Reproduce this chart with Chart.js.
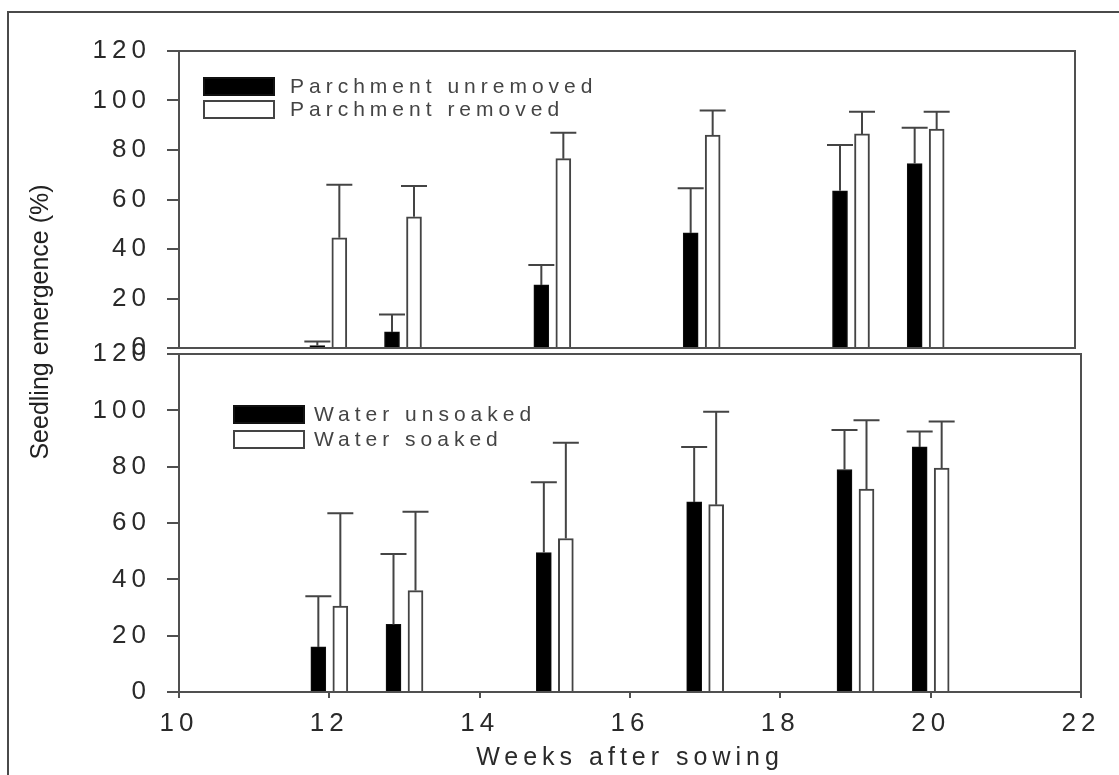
<!DOCTYPE html>
<html>
<head>
<meta charset="utf-8">
<title>Seedling emergence</title>
<script src="https://cdn.jsdelivr.net/npm/chart.js@4.4.1/dist/chart.umd.min.js"></script>
<style>
    html, body { margin: 0; padding: 0; background: #fff; }
    #wrap { position: relative; width: 1119px; height: 775px; overflow: hidden; background: #fff; }
    #wrap canvas { position: absolute; left: 0; top: 0; }
    #frame { position: absolute; left: 7px; top: 11px; width: 1130px; height: 800px;
             border-left: 2px solid #4a4a4a; border-top: 2px solid #4a4a4a; }
</style>
</head>
<body>
<div id="wrap">
    <div id="frame"></div>
    <canvas id="parchmentChart" width="1119" height="362"></canvas>
    <canvas id="soakingChart" width="1119" height="775"></canvas>
</div>
<script>
// weeks after sowing where emergence was counted
const weeks = [12, 13, 15, 17, 19, 20];
const xTicks = [10, 12, 14, 16, 18, 20, 22];
const yTicks = [0, 20, 40, 60, 80, 100, 120];

// top panel: parchment treatment (mean % and SD)
const parchmentUnremoved = [1, 6.5, 25.5, 46.5, 63.5, 74.5];
const parchmentUnremovedSd = [1.6, 7, 8, 18, 18.5, 14.5];
const parchmentRemoved = [44.5, 53, 76.5, 86, 86.5, 88.5];
const parchmentRemovedSd = [21.5, 12.5, 10.5, 10, 9, 7];

// bottom panel: water soaking treatment (mean % and SD)
const waterUnsoaked = [16, 24, 49.5, 67.5, 79, 87];
const waterUnsoakedSd = [18, 25, 25, 19.5, 14, 5.5];
const waterSoaked = [30.5, 36, 54.5, 66.5, 72, 79.5];
const waterSoakedSd = [33, 28, 34, 33, 24.5, 16.5];

const FONT = '"Liberation Sans", Arial, sans-serif';
const AXIS = '#505050';
Chart.defaults.font.family = FONT;
Chart.defaults.font.size = 26;
Chart.defaults.color = '#2a2a2a';

const toPoints = values => weeks.map((w, i) => ({ x: w, y: values[i] }));

// the scanned figure has very wide lettering
const wideText = {
    id: 'wideText',
    beforeDraw(chart) {
        chart.ctx.letterSpacing = '5px';
    }
};

const frame = {
    id: 'frame',
    beforeDatasetsDraw(chart) {
        const a = chart.chartArea;
        const ctx = chart.ctx;
        ctx.save();
        ctx.strokeStyle = AXIS;
        ctx.lineWidth = 2;
        ctx.strokeRect(a.left, a.top, a.right - a.left, a.bottom - a.top);
        ctx.restore();
    }
};

// upward SD whiskers on each bar
const errorBars = {
    id: 'errorBars',
    afterDatasetsDraw(chart) {
        const ctx = chart.ctx;
        const y = chart.scales.y;
        ctx.save();
        ctx.strokeStyle = '#444';
        ctx.lineWidth = 2;
        chart.data.datasets.forEach((ds, di) => {
            chart.getDatasetMeta(di).data.forEach((bar, i) => {
                const top = y.getPixelForValue(ds.data[i].y + ds.errors[i]);
                ctx.beginPath();
                ctx.moveTo(bar.x, bar.y);
                ctx.lineTo(bar.x, top);
                ctx.moveTo(bar.x - 13, top);
                ctx.lineTo(bar.x + 13, top);
                ctx.stroke();
            });
        });
        ctx.restore();
    }
};

// stacked legend inside the plot, like the original
const boxLegend = {
    id: 'boxLegend',
    afterDraw(chart, args, opts) {
        const ctx = chart.ctx;
        ctx.save();
        ctx.font = '21px ' + FONT;
        ctx.letterSpacing = opts.spacing;
        ctx.textBaseline = 'middle';
        chart.data.datasets.forEach((ds, i) => {
            const top = opts.y + i * opts.rowGap;
            ctx.fillStyle = ds.backgroundColor;
            ctx.fillRect(opts.x, top, 70, 17);
            ctx.strokeStyle = ds.borderColor;
            ctx.lineWidth = 2;
            ctx.strokeRect(opts.x, top, 70, 17);
            ctx.fillStyle = '#444';
            ctx.fillText(ds.label, opts.x + opts.textGap, top + 9);
        });
        ctx.restore();
    }
};

const yTitle = {
    id: 'yTitle',
    afterDraw(chart) {
        const ctx = chart.ctx;
        ctx.save();
        ctx.translate(41, 322);
        ctx.rotate(-Math.PI / 2);
        ctx.font = '25px ' + FONT;
        ctx.letterSpacing = '0px';
        ctx.fillStyle = '#222';
        ctx.textAlign = 'center';
        ctx.textBaseline = 'middle';
        ctx.fillText('Seedling emergence (%)', 0, 0);
        ctx.restore();
    }
};

function panel(canvasId, labels, series, errors, legendPos, opts) {
    return new Chart(document.getElementById(canvasId), {
        type: 'bar',
        data: {
            datasets: [{
                label: labels[0],
                data: toPoints(series[0]),
                errors: errors[0],
                backgroundColor: '#000',
                borderColor: '#111',
                borderWidth: 1
            }, {
                label: labels[1],
                data: toPoints(series[1]),
                errors: errors[1],
                backgroundColor: '#fff',
                borderColor: '#444',
                borderWidth: 2
            }]
        },
        options: {
            responsive: false,
            animation: false,
            barThickness: 22,
            maxBarThickness: 15,
            layout: { padding: { top: opts.top, right: opts.right, bottom: 0, left: 0 } },
            plugins: {
                legend: { display: false },
                tooltip: { enabled: false },
                boxLegend: legendPos
            },
            scales: {
                x: {
                    type: 'linear',
                    min: 10,
                    max: 22,
                    offset: false,
                    afterBuildTicks: s => { s.ticks = xTicks.map(v => ({ value: v })); },
                    afterFit: s => { s.height = opts.xHeight; s.paddingLeft = 0; s.paddingRight = 0; },
                    border: { display: true, color: AXIS, width: 2 },
                    grid: { display: true, offset: false, drawOnChartArea: false, drawTicks: opts.xLabels,
                            tickLength: 6, color: AXIS, lineWidth: 2 },
                    ticks: { display: opts.xLabels, padding: 10, maxRotation: 0 },
                    title: {
                        display: opts.xLabels,
                        text: 'Weeks after sowing',
                        font: { size: 25 },
                        padding: { top: 0, bottom: 2 }
                    }
                },
                y: {
                    min: 0,
                    max: 120,
                    afterBuildTicks: s => { s.ticks = yTicks.map(v => ({ value: v })); },
                    afterFit: s => { s.width = 179; s.paddingTop = 0; s.paddingBottom = 0; },
                    border: { display: true, color: AXIS, width: 2 },
                    grid: { display: true, drawOnChartArea: false, tickLength: 12, color: AXIS, lineWidth: 2 },
                    ticks: { padding: 16 }
                }
            }
        },
        plugins: opts.extra.concat([wideText, frame, errorBars, boxLegend])
    });
}

panel('parchmentChart',
    ['Parchment unremoved', 'Parchment removed'],
    [parchmentUnremoved, parchmentRemoved],
    [parchmentUnremovedSd, parchmentRemovedSd],
    { x: 204, y: 78, rowGap: 23, textGap: 86, spacing: '5px' },
    { top: 51, right: 44, xHeight: 14, xLabels: false, extra: [] });

panel('soakingChart',
    ['Water unsoaked', 'Water soaked'],
    [waterUnsoaked, waterSoaked],
    [waterUnsoakedSd, waterSoakedSd],
    { x: 234, y: 406, rowGap: 25, textGap: 80, spacing: '5px' },
    { top: 354, right: 38, xHeight: 83, xLabels: true, extra: [yTitle] });
</script>
</body>
</html>
